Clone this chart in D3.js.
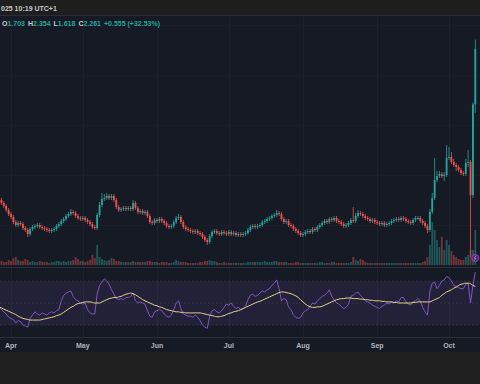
<!DOCTYPE html>
<html><head><meta charset="utf-8">
<script src="https://cdn.jsdelivr.net/npm/d3@7"></script>
<style>html,body{margin:0;padding:0;background:#1f1f1f;overflow:hidden}svg{display:block}</style>
</head><body><svg id="c" width="480" height="384"></svg>
<script>
// ---------- data (daily candles, 2025-03-27 .. 2025-10-12) ----------
const startDate = "2025-03-27";
const firstOpen = 0.78;
const closes = [
0.75,0.72,0.69,0.65,0.61,0.58,0.53,0.50,0.52,0.51,
0.47,0.45,0.41,0.46,0.48,0.49,0.50,0.48,0.47,0.46,
0.45,0.44,0.45,0.46,0.49,0.51,0.54,0.56,0.59,0.61,
0.63,0.62,0.59,0.57,0.56,0.57,0.55,0.53,0.51,0.48,
0.47,0.60,0.70,0.76,0.77,0.79,0.77,0.79,0.75,0.68,
0.65,0.66,0.67,0.66,0.67,0.66,0.72,0.67,0.63,0.64,
0.62,0.63,0.59,0.53,0.52,0.55,0.54,0.56,0.54,0.52,
0.49,0.48,0.49,0.53,0.57,0.58,0.53,0.48,0.46,0.45,
0.44,0.43,0.44,0.42,0.41,0.38,0.35,0.33,0.39,0.43,
0.44,0.42,0.41,0.43,0.42,0.41,0.43,0.41,0.42,0.40,
0.41,0.40,0.41,0.42,0.45,0.48,0.49,0.48,0.49,0.50,
0.53,0.54,0.56,0.57,0.59,0.60,0.62,0.61,0.56,0.53,
0.54,0.50,0.49,0.46,0.44,0.42,0.40,0.41,0.43,0.44,
0.43,0.46,0.45,0.48,0.50,0.52,0.54,0.53,0.56,0.55,
0.57,0.54,0.53,0.51,0.49,0.50,0.52,0.55,0.54,0.59,
0.62,0.61,0.59,0.57,0.56,0.54,0.55,0.53,0.52,0.51,
0.52,0.50,0.51,0.52,0.54,0.55,0.56,0.55,0.57,0.56,
0.54,0.53,0.52,0.55,0.57,0.57,0.54,0.52,0.49,0.45,
0.63,0.77,0.95,0.99,1.01,0.99,1.00,1.17,1.18,1.13,
1.10,1.08,1.05,1.02,1.01,1.12,1.13,0.80,1.706,2.261];
const upperWicks = [
.03,.02,.02,.02,.02,.02,.02,.02,.02,.02,
.02,.02,.02,.02,.02,.02,.02,.02,.02,.02,
.02,.02,.02,.02,.02,.02,.02,.02,.02,.02,
.03,.02,.02,.02,.02,.02,.02,.02,.02,.02,
.02,.02,.03,.06,.04,.03,.02,.02,.02,.02,
.02,.02,.02,.02,.02,.02,.03,.02,.02,.02,
.02,.02,.02,.02,.02,.02,.02,.02,.02,.02,
.02,.02,.02,.02,.02,.03,.02,.02,.02,.02,
.02,.02,.02,.02,.02,.02,.02,.02,.02,.02,
.02,.02,.02,.02,.02,.02,.02,.02,.02,.02,
.02,.02,.02,.02,.02,.02,.02,.02,.02,.02,
.02,.02,.02,.02,.02,.02,.03,.02,.02,.02,
.02,.02,.02,.02,.02,.02,.02,.02,.02,.02,
.02,.02,.02,.02,.02,.02,.02,.02,.02,.02,
.02,.02,.02,.02,.02,.02,.02,.02,.13,.03,
.03,.02,.02,.02,.02,.02,.02,.02,.02,.02,
.02,.02,.02,.02,.02,.02,.02,.02,.02,.02,
.02,.02,.02,.02,.02,.02,.02,.02,.02,.02,
.03,.05,.22,.05,.03,.02,.03,.13,.10,.05,
.03,.02,.02,.02,.02,.04,.12,.02,.02,.093];
const lowerWicks = [
.02,.02,.02,.02,.02,.02,.02,.02,.02,.02,
.02,.02,.03,.02,.02,.02,.02,.02,.02,.02,
.02,.02,.02,.02,.02,.02,.02,.02,.02,.02,
.02,.02,.02,.02,.02,.02,.02,.02,.02,.02,
.02,.02,.02,.02,.02,.02,.02,.02,.02,.02,
.02,.02,.02,.02,.02,.02,.02,.02,.02,.02,
.02,.02,.02,.02,.02,.02,.02,.02,.02,.02,
.02,.02,.02,.02,.02,.02,.02,.02,.02,.02,
.02,.02,.02,.02,.02,.02,.02,.03,.02,.02,
.02,.02,.02,.02,.02,.02,.02,.02,.02,.02,
.02,.02,.02,.02,.02,.02,.02,.02,.02,.02,
.02,.02,.02,.02,.02,.02,.02,.02,.02,.02,
.02,.02,.02,.02,.02,.02,.02,.02,.02,.02,
.02,.02,.02,.02,.02,.02,.02,.02,.02,.02,
.02,.02,.02,.02,.02,.02,.02,.02,.02,.02,
.02,.02,.02,.02,.02,.02,.02,.02,.02,.02,
.02,.02,.02,.02,.02,.02,.02,.02,.02,.02,
.02,.02,.02,.02,.02,.02,.02,.02,.02,.03,
.02,.02,.02,.02,.02,.02,.05,.02,.02,.02,
.02,.04,.02,.02,.02,.02,.04,.62,.03,.085];
const volumes = [
12,8,6,6,10,8,14,16,10,8,
8,12,10,6,8,6,6,8,6,6,
6,4,6,6,8,8,6,8,6,8,
8,10,16,12,8,8,6,8,10,20,
14,40,16,12,10,8,10,14,12,8,
8,6,6,6,6,6,8,6,6,6,
6,6,8,8,6,6,6,4,6,6,
6,4,4,6,10,8,6,6,6,4,
4,4,4,4,6,6,8,8,10,8,
8,6,4,4,6,4,4,4,4,4,
4,4,4,4,6,6,6,6,6,6,
6,8,6,6,6,8,8,6,6,6,
6,4,4,4,6,6,4,4,4,4,
4,4,4,4,6,6,4,4,4,6,
6,4,4,4,4,4,4,6,16,10,
8,12,10,6,4,4,4,4,4,4,
4,4,4,4,4,4,4,4,4,4,
4,4,4,4,4,4,4,6,8,16,
40,86,70,50,36,56,30,50,40,28,
20,16,12,10,10,16,20,30,30,70];
const rsi = [
46,44,42,40,37,36,35,32,34,33,
30,29,28,36,39,42,40,39,41,40,
39,41,42,41,43,44,52,57,59,60,
61,56,53,52,50,49,50,44,41,40,
40,58,66,69,72,70,67,62,58,54,
53,54,53,55,55,56,59,52,50,51,
50,49,43,38,37,42,43,44,43,40,
38,37,39,44,50,52,45,40,39,38,
38,37,39,37,34,30,28,27,38,43,
44,42,41,43,46,49,48,50,47,45,
46,44,45,47,53,57,58,56,57,59,
61,60,62,63,66,68,71,63,52,54,
53,46,44,39,37,36,37,41,43,44,
47,50,49,52,54,56,57,59,62,56,
53,50,49,47,45,46,49,56,57,59,
60,57,55,52,51,50,48,47,46,45,
47,48,50,49,51,50,52,51,55,55,
51,49,48,51,52,54,52,46,42,39,
60,68,69,63,66,70,71,74,73,70,
66,65,64,63,63,67,68,50,66,78];
const rsiMA = [
46.5,45.5,44.5,43.5,42.5,41.5,40.5,39.5,38,37,
36,35.5,35,34.5,34.5,34.5,34.5,34.5,35,35.5,
36,36.5,37,37.5,38.5,39,40,41.5,43,44.5,
46,47,48.5,49.5,50,50.5,51,51,51,50.5,
50,50,50,51,52,53,54,54.5,55,55,
55.5,56,57,58,58.5,59,58.5,57.5,56,54.5,
53,52,51,50,49,48,47.5,46.5,46,45,
44,43.5,43,42.5,42,42,41.5,41.5,41,41,
41,41,41,41,41,40.5,40,39.5,39,38.5,
38,37.5,37.5,38,38.5,39.5,40.5,41,42,42.5,
43,44,45,46,47,48,49,50,51,51.5,
52.5,53.5,54.5,55.5,56.5,57.5,58.5,59.5,60,60,
59.5,59,58.5,57.5,56.5,55,53,51,49,47.5,
46.5,46,46,46.5,46.5,47,48,49,50,51,
52,53,53.5,54,54,54.5,54.5,54.5,54,54,
54,53.5,53.5,53,53,52.5,52.5,52,52,52,
51.5,51.5,51,51,51,50.5,50.5,50,50,50,
50,50,50,50.5,50.5,51,51,51,51,51,
51,52,53,54,55,57,58.5,60,61,62,
63.5,64.5,66,67,67.5,68,68,67.5,66,65];
const monthTicks = ["2025-04-01","2025-05-01","2025-06-01","2025-07-01","2025-08-01","2025-09-01","2025-10-01"];
const monthLabels = ["Apr","May","Jun","Jul","Aug","Sep","Oct"];
const legendKeys = ["O","H","L","C"];
const legendVals = ["1.703","2.354","1.618","2.261"];
const legendChange = "+0.555 (+32.53%)";
const headerText = "025 10:19 UTC+1";
const rsiLevels = [70, 50, 30];

// ---------- build ----------
const W = 480, H = 384;
const UP = "#26a69a", DN = "#ef5350";
const day = 864e5;
const t0 = Date.parse(startDate + "T00:00:00Z");
const bars = closes.map((c, i) => {
  const o = i === 0 ? firstOpen : closes[i - 1];
  return {
    date: new Date(t0 + i * day), o, c,
    h: Math.max(o, c) + upperWicks[i],
    l: Math.min(o, c) - lowerWicks[i],
    v: volumes[i], rsi: rsi[i], ma: rsiMA[i]
  };
});

const svg = d3.select("#c");
const font = "'Liberation Sans', Arial, sans-serif";

// backgrounds
svg.append("rect").attr("x",0).attr("y",0).attr("width",W).attr("height",15).attr("fill","#1e1e1e");
svg.append("rect").attr("x",0).attr("y",15).attr("width",W).attr("height",337).attr("fill","#161a25");
svg.append("rect").attr("x",0).attr("y",352).attr("width",W).attr("height",32).attr("fill","#1f1f1f");

const x = d3.scaleUtc()
  .domain([Date.parse("2025-04-01T00:00:00Z"), Date.parse("2025-10-01T00:00:00Z")])
  .range([11, 449]);
const pY = d3.scaleLinear().domain([0.1, 2.6]).range([265, 15]);
const vY = d3.scaleLinear().domain([0, 100]).range([265, 215]);
const rY = d3.scaleLinear().domain([30, 70]).range([325, 281]);

// grid
const tickDates = monthTicks.map(s => new Date(s + "T00:00:00Z"));
svg.append("g").selectAll("line").data(tickDates).join("line")
  .attr("x1", d => Math.round(x(d)) + 0.5).attr("x2", d => Math.round(x(d)) + 0.5)
  .attr("y1", 15).attr("y2", 337).attr("stroke", "#1d212c").attr("stroke-width", 1);
svg.append("g").selectAll("line").data(pY.ticks(6)).join("line")
  .attr("x1", 0).attr("x2", W)
  .attr("y1", d => Math.round(pY(d)) + 0.5).attr("y2", d => Math.round(pY(d)) + 0.5)
  .attr("stroke", "#1a1e29").attr("stroke-width", 1);

// RSI panel
svg.append("rect").attr("x",0).attr("width",W)
  .attr("y", rY(70)).attr("height", rY(30) - rY(70))
  .attr("fill", "#7e57c2").attr("fill-opacity", 0.12);
svg.append("g").selectAll("line").data(rsiLevels).join("line")
  .attr("x1",0).attr("x2",W).attr("y1", d => rY(d)).attr("y2", d => rY(d))
  .attr("stroke","#787b86").attr("stroke-opacity",0.2).attr("stroke-dasharray","2,2");

// main clip
svg.append("clipPath").attr("id","mainClip").append("rect")
  .attr("x",0).attr("y",15).attr("width",W).attr("height",251);
const main = svg.append("g").attr("clip-path","url(#mainClip)");

const bw = 1.8;
// volume
main.append("g").selectAll("rect").data(bars).join("rect")
  .attr("x", d => x(d.date) - bw/2).attr("width", bw)
  .attr("y", d => vY(d.v)).attr("height", d => 265 - vY(d.v))
  .attr("fill", d => d.c >= d.o ? UP : DN).attr("fill-opacity", 0.45);
// wicks
main.append("g").selectAll("line").data(bars).join("line")
  .attr("x1", d => x(d.date)).attr("x2", d => x(d.date))
  .attr("y1", d => pY(d.h)).attr("y2", d => pY(d.l))
  .attr("stroke", d => d.c >= d.o ? UP : DN).attr("stroke-width", 0.8);
// bodies
main.append("g").selectAll("rect").data(bars).join("rect")
  .attr("x", d => x(d.date) - bw/2).attr("width", bw)
  .attr("y", d => pY(Math.max(d.o, d.c)))
  .attr("height", d => Math.max(1, Math.abs(pY(d.o) - pY(d.c))))
  .attr("fill", d => d.c >= d.o ? UP : DN);

// event marker
const last = bars[bars.length - 1];
svg.append("circle").attr("cx", x(last.date)).attr("cy", 258).attr("r", 3.5)
  .attr("fill", "#4a2370").attr("stroke", "#9c4dcc").attr("stroke-width", 0.8);
svg.append("path").attr("d", `M${x(last.date)+0.8},${255.5} L${x(last.date)-1},${258.3} L${x(last.date)+0.4},${258.3} L${x(last.date)-0.8},${260.5}`)
  .attr("fill","none").attr("stroke","#e1bee7").attr("stroke-width",0.6);

// separators
svg.append("line").attr("x1",0).attr("x2",W).attr("y1",267.5).attr("y2",267.5).attr("stroke","#2a2e39");
svg.append("line").attr("x1",0).attr("x2",W).attr("y1",337.5).attr("y2",337.5).attr("stroke","#2a2e39");
svg.append("line").attr("x1",0).attr("x2",W).attr("y1",15.5).attr("y2",15.5).attr("stroke","#2a2e39");

// RSI lines
svg.append("clipPath").attr("id","rsiClip").append("rect")
  .attr("x",0).attr("y",268).attr("width",W).attr("height",69);
const rg = svg.append("g").attr("clip-path","url(#rsiClip)");
rg.append("path").datum(bars)
  .attr("d", d3.line().x(d => x(d.date)).y(d => rY(d.rsi)))
  .attr("fill","none").attr("stroke","#7e57c2").attr("stroke-width",1);
rg.append("path").datum(bars)
  .attr("d", d3.line().x(d => x(d.date)).y(d => rY(d.ma)).curve(d3.curveMonotoneX))
  .attr("fill","none").attr("stroke","#e3d48c").attr("stroke-width",1);

// time axis labels
svg.append("g").selectAll("text").data(tickDates).join("text")
  .attr("x", d => x(d)).attr("y", 347.5).attr("text-anchor","middle")
  .attr("font-family", font).attr("font-size", 7).attr("font-weight", 600)
  .attr("fill", "#b2b5be").text((d, i) => monthLabels[i]);

// header
svg.append("text").attr("x", 1).attr("y", 10.5).attr("font-family", font)
  .attr("font-size", 7).attr("font-weight", 600).attr("fill", "#c8cad0").text(headerText);

// legend
const lg = svg.append("text").attr("x", 2).attr("y", 26).attr("font-family", font)
  .attr("font-size", 7).attr("font-weight", 600);
legendKeys.forEach((k, i) => {
  lg.append("tspan").attr("fill", "#c8cad0").attr("dx", i ? 3 : 0).text(k);
  lg.append("tspan").attr("fill", UP).text(legendVals[i]);
});
lg.append("tspan").attr("fill", UP).attr("dx", 3).text(legendChange);
</script></body></html>
